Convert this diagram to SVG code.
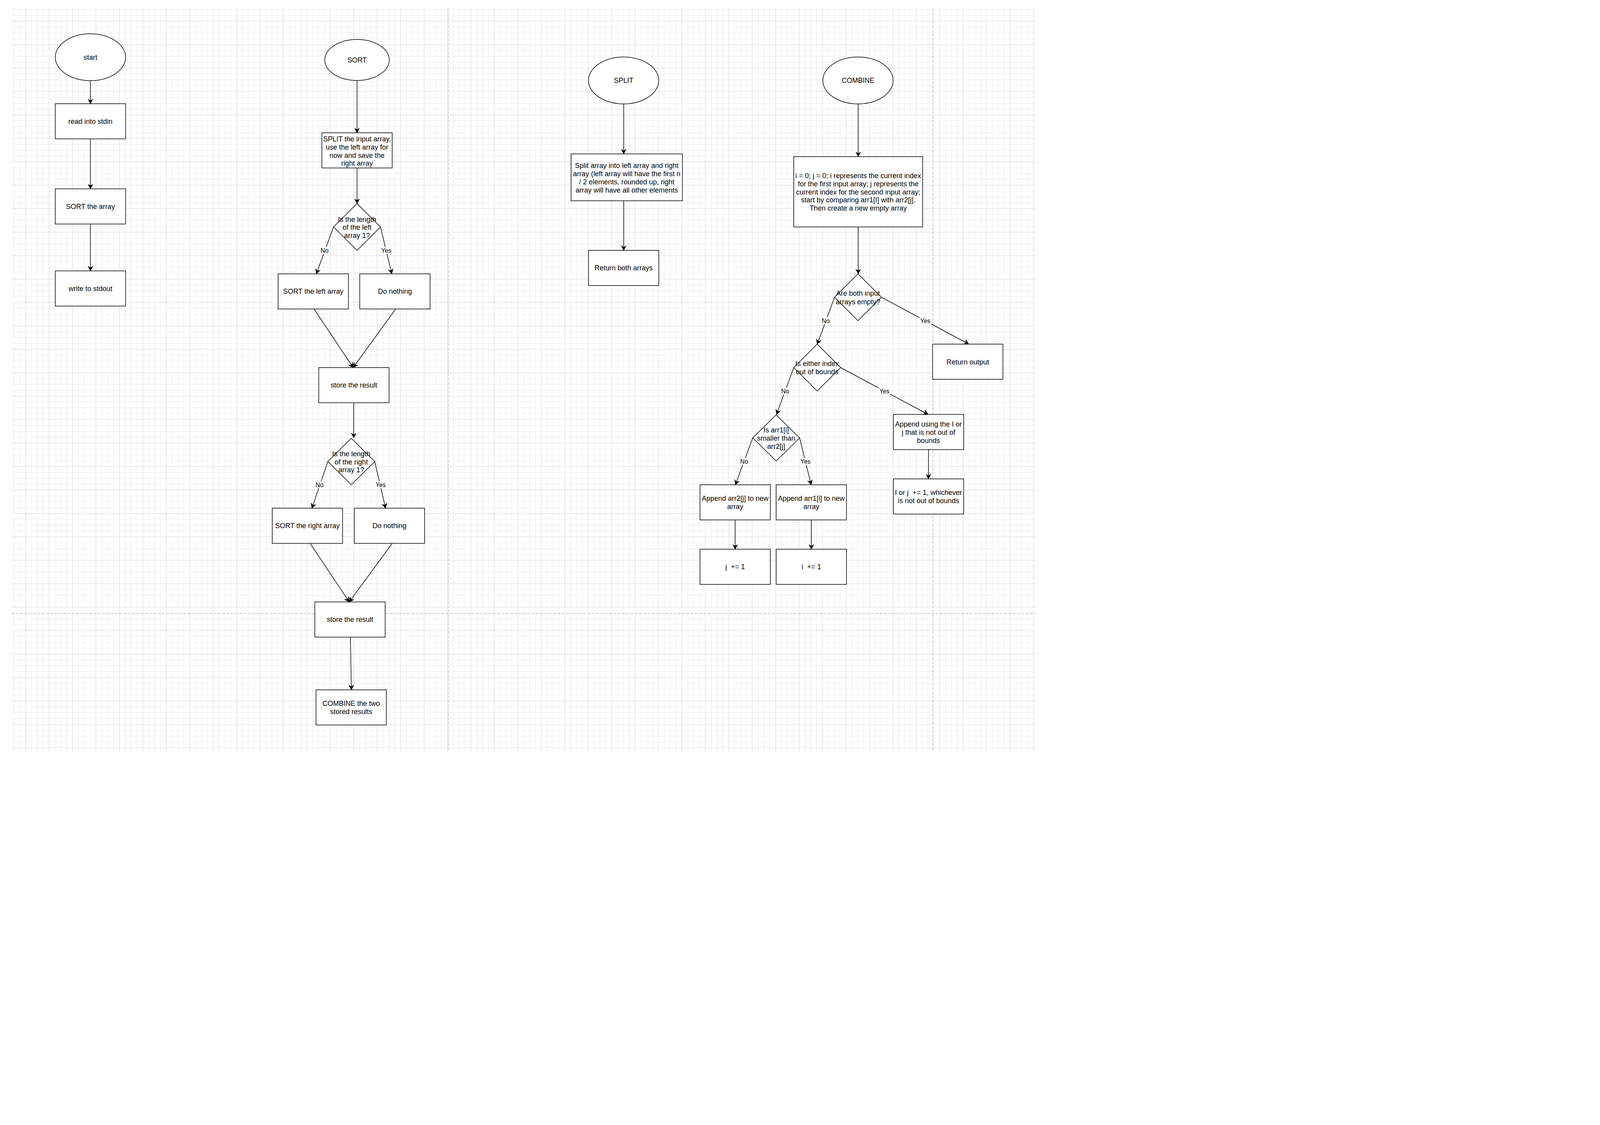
<svg xmlns="http://www.w3.org/2000/svg" width="5120" height="2880" viewBox="0 0 5120 2880">
<defs>
<style>
.n{fill:#fff;stroke:#000;stroke-width:1.5}
.t{font-family:"Liberation Sans",Arial,Helvetica,sans-serif;font-size:18px;text-anchor:middle;fill:#000}
.l{font-family:"Liberation Sans",Arial,Helvetica,sans-serif;font-size:16px;text-anchor:middle;fill:#000}
.lb{fill:#fff;stroke:none}
.e{fill:none;stroke:#000;stroke-width:1.5;marker-end:url(#arr)}
.pb{fill:none;stroke:#c0c0c0;stroke-width:1.5;stroke-dasharray:7 4}
</style>
<marker id="arr" markerUnits="userSpaceOnUse" viewBox="-13 -7 14 14" markerWidth="14" markerHeight="14" refX="0" refY="0" orient="auto">
<path d="M0,0 L-11.5,-6 L-8,0 L-11.5,6 Z" fill="#000" stroke="#000" stroke-width="1"/>
</marker>
<pattern id="grid" patternUnits="userSpaceOnUse" x="5.7" y="54.3" width="60" height="60">
<path d="M15 0V60M30 0V60M45 0V60M0 15H60M0 30H60M0 45H60" stroke="#f1f1f1" stroke-width="1.5" fill="none"/>
<path d="M0 0V60M60 0V60M0 0H60M0 60H60" stroke="#e2e2e2" stroke-width="1.5" fill="none"/>
</pattern>
</defs>
<rect x="0" y="0" width="5120" height="2880" fill="#fff"/>
<g id="background">
<rect x="30" y="21" width="2624" height="1903" fill="url(#grid)"/>
<path class="pb" d="M1147.7 21V1924M2388 21V1924M30 1571H2654"/>
</g>

<g id="connectors">
<path class="e" d="M231.5 206.5V265.5"/>
<path class="e" d="M231.5 355.5V483.5"/>
<path class="e" d="M231.5 573.5V693.5"/>
<path class="e" d="M914 206V340"/>
<path class="e" d="M914 430V521"/>
<path class="e" d="M854 581L809.7 701"/>
<path class="e" d="M974 581L1003 701"/>
<path class="e" d="M804 791L904 941"/>
<path class="e" d="M1013 791L904 941"/>
<path class="e" d="M905.5 1031V1121"/>
<path class="e" d="M839.3 1181.5L798.5 1301"/>
<path class="e" d="M959.3 1181.5L987 1301"/>
<path class="e" d="M794 1391L894 1541"/>
<path class="e" d="M1004 1391L894 1541"/>
<path class="e" d="M897 1631L899.5 1766"/>
<path class="e" d="M1596.7 266V394"/>
<path class="e" d="M1596.7 514V641"/>
<path class="e" d="M2197 266V401"/>
<path class="e" d="M2197 581V701"/>
<path class="e" d="M2136.5 761L2092 881"/>
<path class="e" d="M2256.5 761L2480 881"/>
<path class="e" d="M2032 941L1988 1061"/>
<path class="e" d="M2152 941L2376 1061"/>
<path class="e" d="M2377 1151V1226"/>
<path class="e" d="M1927 1121L1882.5 1241"/>
<path class="e" d="M2047 1121L2076.5 1241"/>
<path class="e" d="M1882 1331V1406"/>
<path class="e" d="M2077 1331V1406"/>
<g id="edge-labels">
<rect class="lb" x="819" y="632" width="24" height="18"/><text class="l" x="831" y="646.6">No</text>
<rect class="lb" x="974" y="632" width="30" height="18"/><text class="l" x="989" y="646.6">Yes</text>
<rect class="lb" x="806" y="1232" width="24" height="18"/><text class="l" x="818" y="1246.9">No</text>
<rect class="lb" x="959.5" y="1232" width="30" height="18"/><text class="l" x="974.5" y="1246.9">Yes</text>
<rect class="lb" x="2102" y="812" width="24" height="18"/><text class="l" x="2114" y="826.6">No</text>
<rect class="lb" x="2354" y="812" width="30" height="18"/><text class="l" x="2369" y="826.6">Yes</text>
<rect class="lb" x="1998" y="992" width="24" height="18"/><text class="l" x="2010" y="1006.6">No</text>
<rect class="lb" x="2249" y="992" width="30" height="18"/><text class="l" x="2264" y="1006.6">Yes</text>
<rect class="lb" x="1893" y="1172" width="24" height="18"/><text class="l" x="1905" y="1186.6">No</text>
<rect class="lb" x="2047" y="1172" width="30" height="18"/><text class="l" x="2062" y="1186.6">Yes</text>
</g>
</g>

<g id="n_start"><ellipse class="n" cx="231.5" cy="146.5" rx="90" ry="60"/><text class="t" x="231.5" y="152.8">start</text></g>
<g id="n_read"><rect class="n" x="141.5" y="265.5" width="180" height="90"/><text class="t" x="231.5" y="316.8">read into stdin</text></g>
<g id="n_sortarray"><rect class="n" x="141.5" y="483.5" width="180" height="90"/><text class="t" x="231.5" y="534.8">SORT the array</text></g>
<g id="n_write"><rect class="n" x="141.5" y="693.5" width="180" height="90"/><text class="t" x="231.5" y="744.8">write to stdout</text></g>

<g id="n_sort"><ellipse class="n" cx="914" cy="153.5" rx="82.5" ry="52.5"/><text class="t" x="914" y="159.8">SORT</text></g>
<g id="n_splitinput"><rect class="n" x="824" y="340" width="180" height="90"/><text class="t"><tspan x="914" y="362.3">SPLIT the input array,</tspan><tspan x="914" y="382.9">use the left array for</tspan><tspan x="914" y="403.5">now and save the</tspan><tspan x="914" y="424.1">right array</tspan></text></g>
<g id="n_d1"><polygon class="n" points="914,521 974,581 914,641 854,581"/><text class="t"><tspan x="914" y="567.7">Is the length</tspan><tspan x="914" y="588.3">of the left</tspan><tspan x="914" y="608.9">array 1?</tspan></text></g>
<g id="n_sortleft"><rect class="n" x="712" y="701" width="180" height="90"/><text class="t" x="802" y="752.3">SORT the left array</text></g>
<g id="n_nothing1"><rect class="n" x="921" y="701" width="180" height="90"/><text class="t" x="1011" y="752.3">Do nothing</text></g>
<g id="n_store1"><rect class="n" x="816" y="941" width="180" height="90"/><text class="t" x="906" y="992.3">store the result</text></g>
<g id="n_d2"><polygon class="n" points="899.3,1122 959.3,1181.5 899.3,1241 839.3,1181.5"/><text class="t"><tspan x="899.3" y="1168">Is the length</tspan><tspan x="899.3" y="1188.6">of the right</tspan><tspan x="899.3" y="1209.2">array 1?</tspan></text></g>
<g id="n_sortright"><rect class="n" x="697" y="1301" width="180" height="90"/><text class="t" x="787" y="1352.3">SORT the right array</text></g>
<g id="n_nothing2"><rect class="n" x="907" y="1301" width="180" height="90"/><text class="t" x="997" y="1352.3">Do nothing</text></g>
<g id="n_store2"><rect class="n" x="806" y="1541" width="180" height="90"/><text class="t" x="896" y="1592.3">store the result</text></g>
<g id="n_combinetwo"><rect class="n" x="809" y="1766" width="180" height="90"/><text class="t"><tspan x="899" y="1807">COMBINE the two</tspan><tspan x="899" y="1827.6">stored results</tspan></text></g>

<g id="n_split"><ellipse class="n" cx="1596.5" cy="206" rx="90" ry="60"/><text class="t" x="1596.5" y="212.3">SPLIT</text></g>
<g id="n_splitdesc"><rect class="n" x="1462" y="394" width="285" height="120"/><text class="t"><tspan x="1604.5" y="429.8">Split array into left array and right</tspan><tspan x="1604.5" y="450.8">array (left array will have the first n</tspan><tspan x="1604.5" y="471.8">/ 2 elements, rounded up, right</tspan><tspan x="1604.5" y="492.8">array will have all other elements</tspan></text></g>
<g id="n_returnboth"><rect class="n" x="1506.5" y="641" width="180" height="90"/><text class="t" x="1596.5" y="692.3">Return both arrays</text></g>

<g id="n_combine"><ellipse class="n" cx="2196.5" cy="206" rx="90" ry="60"/><text class="t" x="2196.5" y="212.3">COMBINE</text></g>
<g id="n_init"><rect class="n" x="2032" y="401" width="330" height="180"/><text class="t"><tspan x="2197" y="456.3">i = 0; j = 0; i represents the current index</tspan><tspan x="2197" y="476.9">for the first input array; j represents the</tspan><tspan x="2197" y="497.5">current index for the second input array;</tspan><tspan x="2197" y="518.1">start by comparing arr1[I] with arr2[j].</tspan><tspan x="2197" y="538.7">Then create a new empty array</tspan></text></g>
<g id="n_d3"><polygon class="n" points="2196.5,701 2256.5,761 2196.5,821 2136.5,761"/><text class="t"><tspan x="2196.5" y="757.3">Are both input</tspan><tspan x="2196.5" y="778.6">arrays empty?</tspan></text></g>
<g id="n_returnout"><rect class="n" x="2387.5" y="881" width="180" height="90"/><text class="t" x="2477.5" y="932.5">Return output</text></g>
<g id="n_d4"><polygon class="n" points="2092,881 2152,941 2092,1001 2032,941"/><text class="t"><tspan x="2092" y="937.3">Is either index</tspan><tspan x="2092" y="958.3">out of bounds</tspan></text></g>
<g id="n_appendij"><rect class="n" x="2287" y="1061" width="180" height="90"/><text class="t"><tspan x="2377" y="1092.3">Append using the I or</tspan><tspan x="2377" y="1113.3">j that is not out of</tspan><tspan x="2377" y="1134.3">bounds</tspan></text></g>
<g id="n_incij"><rect class="n" x="2287" y="1226" width="180" height="90"/><text class="t" xml:space="preserve"><tspan x="2377" y="1266.8">I or j  += 1, whichever</tspan><tspan x="2377" y="1287.8">is not out of bounds</tspan></text></g>
<g id="n_d5"><polygon class="n" points="1987,1062 2047,1121 1987,1180 1927,1121"/><text class="t"><tspan x="1987" y="1107.3">Is arr1[i]</tspan><tspan x="1987" y="1128.3">smaller than</tspan><tspan x="1987" y="1149.3">arr2[j]</tspan></text></g>
<g id="n_app2"><rect class="n" x="1792" y="1241" width="180" height="90"/><text class="t"><tspan x="1882" y="1281.8">Append arr2[j] to new</tspan><tspan x="1882" y="1302.8">array</tspan></text></g>
<g id="n_app1"><rect class="n" x="1987" y="1241" width="180" height="90"/><text class="t"><tspan x="2077" y="1281.8">Append arr1[i] to new</tspan><tspan x="2077" y="1302.8">array</tspan></text></g>
<g id="n_j"><rect class="n" x="1792" y="1406" width="180" height="90"/><text class="t" x="1882" y="1457.3" xml:space="preserve">j  += 1</text></g>
<g id="n_i"><rect class="n" x="1987" y="1406" width="180" height="90"/><text class="t" x="2077" y="1457.3" xml:space="preserve">i  += 1</text></g>
</svg>
